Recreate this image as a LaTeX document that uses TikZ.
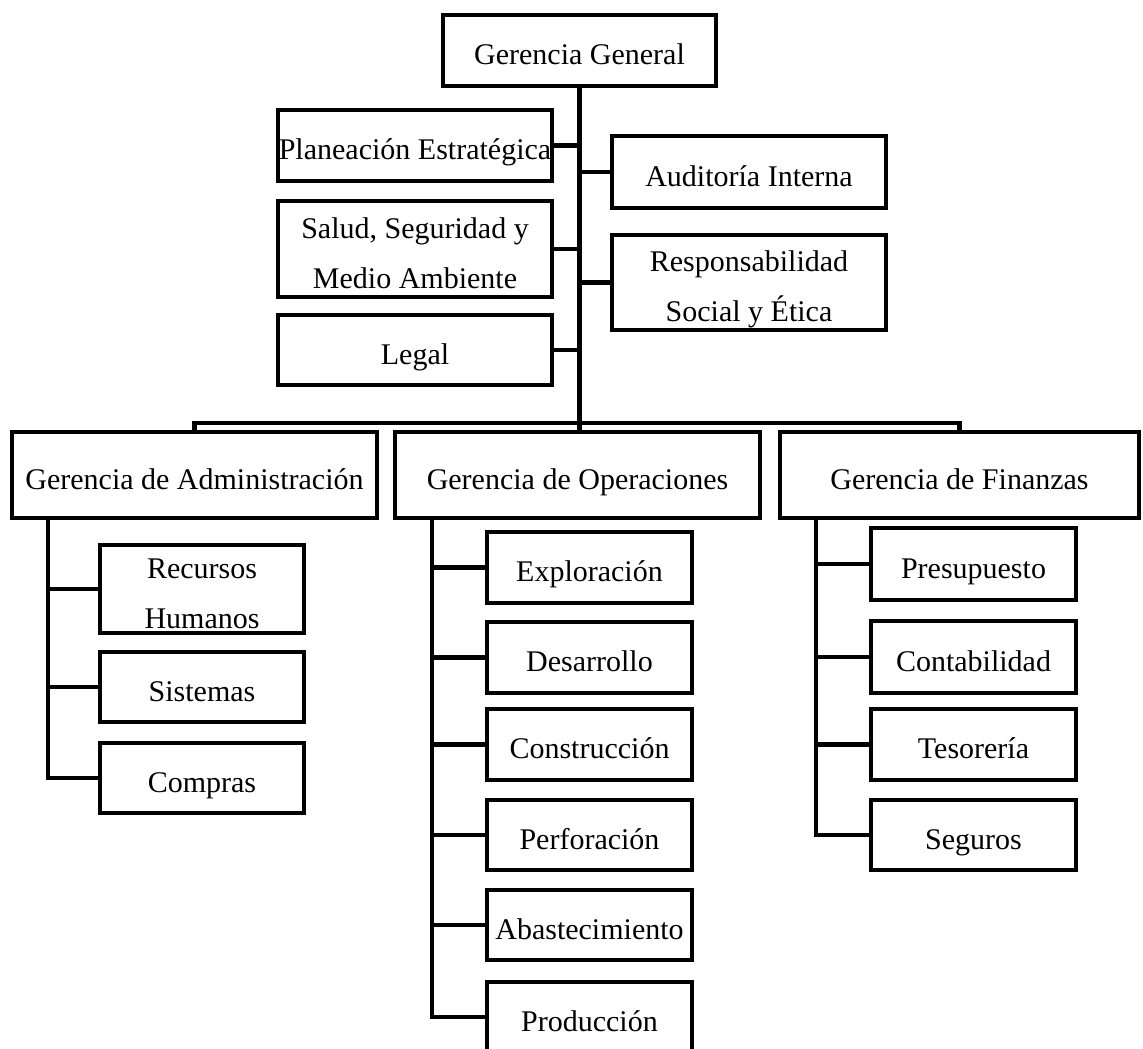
\documentclass[tikz,border=0pt]{standalone}
\usepackage{fontspec}
\setmainfont{Liberation Serif}
\begin{document}
\begin{tikzpicture}[x=1pt,y=-1pt,
  box/.style={draw=black, line width=4.5pt, inner sep=0pt, align=center,
    font=\fontsize{30}{50}\selectfont},
  one/.style={text height=28pt, text depth=0pt},
  link/.style={draw=black, line width=4.5pt, line cap=rect}]
\useasboundingbox[fill=white] (0,0) rectangle (1143,1049);
\newcommand{\bx}[7]{%
  \pgfmathsetmacro{\cxx}{(#3+#4)/2}\pgfmathsetmacro{\cyy}{(#5+#6)/2}%
  \pgfmathsetmacro{\ww}{#4-#3-4}\pgfmathsetmacro{\hh}{#6-#5-4}%
  \node[box, #1, minimum width=\ww pt, minimum height=\hh pt] (#2) at (\cxx,\cyy) {#7};}
\newcommand{\topend}{\rule{0pt}{28pt}}
\newcommand{\nodepth}[1]{\raisebox{0pt}[\height][0pt]{#1}}
% top level
\bx{one}{gg}{441}{718}{13}{88}{Gerencia General}
\bx{one}{plan}{276}{554}{108}{183}{Planeación Estratégica}
\bx{one}{audit}{610}{888}{134}{210}{Auditoría Interna}
\bx{}{salud}{276}{554}{199}{299}{\topend Salud, Seguridad y\\\nodepth{Medio Ambiente}}
\bx{}{resp}{610}{888}{233}{332}{\topend Responsabilidad\\\nodepth{Social y Ética}}
\bx{one}{legal}{276}{554}{313}{387}{Legal}
% managers
\bx{one}{admin}{10}{379}{430}{520}{Gerencia de Administración}
\bx{one}{ops}{393}{762}{430}{520}{Gerencia de Operaciones}
\bx{one}{fin}{778}{1141}{430}{520}{Gerencia de Finanzas}
% admin children
\bx{}{rh}{98}{306}{543}{635}{\topend Recursos\\\nodepth{Humanos}}
\bx{one}{sis}{98}{306}{650}{724}{Sistemas}
\bx{one}{comp}{98}{306}{741}{815}{Compras}
% ops children
\bx{one}{expl}{485}{694}{530}{605}{Exploración}
\bx{one}{des}{485}{694}{620}{695}{Desarrollo}
\bx{one}{cons}{485}{694}{707}{782}{Construcción}
\bx{one}{perf}{485}{694}{798}{872}{Perforación}
\bx{one}{abas}{485}{694}{888}{962}{Abastecimiento}
\bx{one}{prod}{485}{694}{980}{1054}{Producción}
% finance children
\bx{one}{pres}{869}{1078}{526}{602}{Presupuesto}
\bx{one}{cont}{869}{1078}{619}{695}{Contabilidad}
\bx{one}{tes}{869}{1078}{707}{782}{Tesorería}
\bx{one}{seg}{869}{1078}{798}{872}{Seguros}
% trunk and staff links
\draw[link] (gg.south) -- (gg.south |- ops.north);
\draw[link] (plan.east) -- (plan.east -| gg.south);
\draw[link] (salud.east) -- (salud.east -| gg.south);
\draw[link] (legal.east) -- (legal.east -| gg.south);
\draw[link] (audit.west) -- (audit.west -| gg.south);
\draw[link] (resp.west) -- (resp.west -| gg.south);
% bar to managers
\coordinate (bar) at (579,423);
\draw[link] (admin.north) -- (admin.north |- bar) -| (fin.north);
% admin branch
\coordinate (a0) at (48,520);
\draw[link] (a0) |- (comp.west);
\draw[link] (rh.west) -- (rh.west -| a0);
\draw[link] (sis.west) -- (sis.west -| a0);
% ops branch
\coordinate (o0) at (432,520);
\draw[link] (o0) |- (prod.west);
\foreach \n in {expl,des,cons,perf,abas} \draw[link] (\n.west) -- (\n.west -| o0);
% finance branch
\coordinate (f0) at (816,520);
\draw[link] (f0) |- (seg.west);
\foreach \n in {pres,cont,tes} \draw[link] (\n.west) -- (\n.west -| f0);
\end{tikzpicture}
\end{document}
